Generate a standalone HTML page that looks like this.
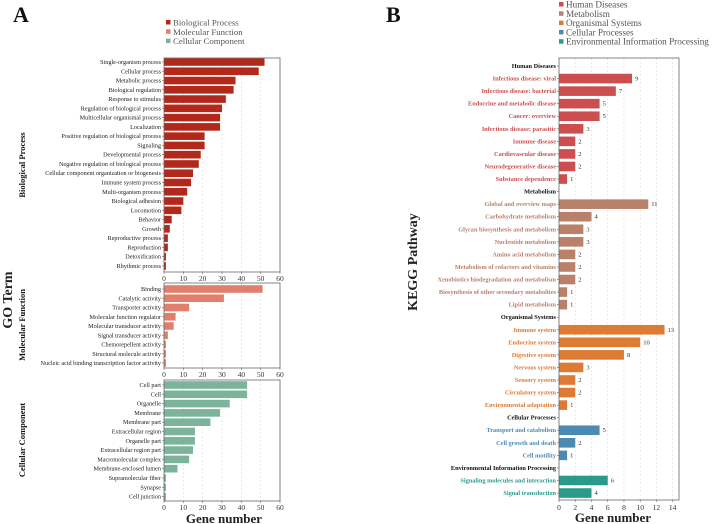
<!DOCTYPE html>
<html><head><meta charset="utf-8"><style>
body{margin:0;background:#fff;}
svg{display:block;font-family:"Liberation Serif",serif;}
</style></head><body>
<svg id="chart" width="712" height="524" viewBox="0 0 712 524"></svg>
<script>
// ---- Panel A data ----
const bpCats=["Single-organism process","Cellular process","Metabolic process","Biological regulation","Response to stimulus","Regulation of biological process","Multicellular organismal process","Localization","Positive regulation of biological process","Signaling","Developmental process","Negative regulation of biological process","Cellular component organization or biogenesis","Immune system process","Multi-organism process","Biological adhesion","Locomotion","Behavior","Growth","Reproductive process","Reproduction","Detoxification","Rhythmic process"];
const bpVals=[52,49,37,36,32,30,29,29,21,21,19,18,15,14,12,10,9,4,3,2,2,1,1];
const mfCats=["Binding","Catalytic activity","Transporter activity","Molecular function regulator","Molecular transducer activity","Signal transducer activity","Chemorepellent activity","Structural molecule activity","Nucleic acid binding transcription factor activity"];
const mfVals=[51,31,13,6,5,2,1,1,1];
const ccCats=["Cell part","Cell","Organelle","Membrane","Membrane part","Extracellular region","Organelle part","Extracellular region part","Macromolecular complex","Membrane-enclosed lumen","Supramolecular fiber","Synapse","Cell junction"];
const ccVals=[43,43,34,29,24,16,16,15,13,7,1,1,1];
const goTicks=[0,10,20,30,40,50,60];
// ---- Panel B data ----
const keggCats=["Human Diseases","Infectious disease: viral","Infectious disease: bacterial","Endocrine and metabolic disease","Cancer: overview","Infectious disease: parasitic","Immune disease","Cardiovascular disease","Neurodegenerative disease","Substance dependence","Metabolism","Global and overview maps","Carbohydrate metabolism","Glycan biosynthesis and metabolism","Nucleotide metabolism","Amino acid metabolism","Metabolism of cofactors and vitamins","Xenobiotics biodegradation and metabolism","Biosynthesis of other secondary metabolites","Lipid metabolism","Organismal Systems","Immune system","Endocrine system","Digestive system","Nervous system","Sensory system","Circulatory system","Environmental adaptation","Cellular Processes","Transport and catabolism","Cell growth and death","Cell motility","Environmental Information Processing","Signaling molecules and interaction","Signal transduction"];
const keggVals=[null,9,7,5,5,3,2,2,2,1,null,11,4,3,3,2,2,2,1,1,null,13,10,8,3,2,2,1,null,5,2,1,null,6,4];
const keggGroup=[0,0,0,0,0,0,0,0,0,0,1,1,1,1,1,1,1,1,1,1,2,2,2,2,2,2,2,2,3,3,3,3,4,4,4];
const keggTicks=[0,2,4,6,8,10,12,14];

const NS="http://www.w3.org/2000/svg";
const svg=document.getElementById("chart");
function mk(tag,attrs,parent){const e=document.createElementNS(NS,tag);for(const k in attrs)e.setAttribute(k,attrs[k]);(parent||svg).appendChild(e);return e;}
function txt(s,attrs,parent){const e=mk("text",attrs,parent);e.textContent=s;return e;}

function goPanel(cats,vals,color,top,bottom,y0,step,name,title,titleY){
  const g=mk("g",{});
  
  
  const x0=164,x1=280,max=60;
  const X=v=>x0+(v/max)*(x1-x0);
  const Y=i=>y0+i*step;
  goTicks.forEach(t=>{
    const gl=mk("line",{x1:X(t),x2:X(t),y1:top,y2:bottom,stroke:"#ddd","stroke-dasharray":"2,2","stroke-width":0.6},g);
    
    
    const tl=txt(String(t),{x:X(t),y:bottom+9,"font-size":7.5,"text-anchor":"middle",fill:"#333"},g);
    
    
    mk("line",{x1:X(t),x2:X(t),y1:bottom,y2:bottom+2,stroke:"#666","stroke-width":0.6},g);
  });
  cats.forEach((c,i)=>{
    const b=mk("rect",{x:X(0),y:Y(i)-3.8,width:X(vals[i])-X(0),height:7.6,fill:color},g);
    
    
    const l=txt(c,{x:x0-3,y:Y(i)+2,"font-size":6.2,"text-anchor":"end",fill:"#222"},g);
    
    
    mk("line",{x1:x0-2,x2:x0,y1:Y(i),y2:Y(i),stroke:"#666","stroke-width":0.6},g);
  });
  const fr=mk("rect",{x:x0,y:top,width:x1-x0,height:bottom-top,fill:"none",stroke:"#666","stroke-width":0.8},g);
  
  
  const t=txt(title,{x:0,y:0,"font-size":8.5,"font-weight":"bold","text-anchor":"middle",fill:"#111",transform:`translate(25,${titleY}) rotate(-90)`},g);
  
  
}
goPanel(bpCats,bpVals,"#b2291b",58,272,62,9.27,"biological-process","Biological Process",165);
goPanel(mfCats,mfVals,"#e0806c",283,368,289,9.25,"molecular-function","Molecular Function",325);
goPanel(ccCats,ccVals,"#7bb49b",380,501,385,9.3,"cellular-component","Cellular Component",440);

const gB=mk("g",{});


const groupColors=["#cc4e4f","#b9806a","#dd7a33","#4d8ab1","#2b9b89"];
const bx0=559,bx1=679,bmax=14.78,bTop=58,bBot=500,by0=66,bstep=12.56;
const BX=v=>bx0+(v/bmax)*(bx1-bx0);
const BY=i=>by0+i*bstep;
keggTicks.forEach(t=>{
  const gl=mk("line",{x1:BX(t),x2:BX(t),y1:bTop,y2:bBot,stroke:"#ddd","stroke-dasharray":"2,2","stroke-width":0.6},gB);
  
  
  const tl=txt(String(t),{x:BX(t),y:bBot+10,"font-size":7.5,"text-anchor":"middle",fill:"#333"},gB);
  
  
  mk("line",{x1:BX(t),x2:BX(t),y1:bBot,y2:bBot+2,stroke:"#666","stroke-width":0.6},gB);
});
keggCats.forEach((c,i)=>{
  const v=keggVals[i];
  const header=v===null;
  const col=groupColors[keggGroup[i]];
  if(!header){
    const b=mk("rect",{x:BX(0),y:BY(i)-4.8,width:BX(v)-BX(0),height:9.6,fill:col},gB);
    
    
    const vl=txt(String(v),{x:BX(v)+3,y:BY(i)+2,"font-size":6.5,fill:"#333"},gB);
    
    
  }
  const l=txt(c,{x:bx0-3,y:BY(i)+2,"font-size":6.3,"font-weight":"bold","text-anchor":"end",fill:header?"#111":col},gB);
  
  
  mk("line",{x1:bx0-2,x2:bx0,y1:BY(i),y2:BY(i),stroke:"#666","stroke-width":0.6},gB);
});
const fb=mk("rect",{x:bx0,y:bTop,width:bx1-bx0,height:bBot-bTop,fill:"none",stroke:"#666","stroke-width":0.8},gB);



const legA=[["Biological Process","#b2291b"],["Molecular Function","#e0806c"],["Cellular Component","#7bb49b"]];
legA.forEach((d,i)=>{
  const s=mk("rect",{x:166,y:20+i*9.3,width:4.5,height:4.5,fill:d[1]});
  
  
  const t=txt(d[0],{x:173,y:25.5+i*9.3,"font-size":8.8,fill:"#555"});
  
  
});
const legB=["Human Diseases","Metabolism","Organismal Systems","Cellular Processes","Environmental Information Processing"];
legB.forEach((d,i)=>{
  const s=mk("rect",{x:559,y:2+i*9.3,width:4.5,height:4.5,fill:groupColors[i]});
  
  
  const t=txt(d,{x:566,y:7.5+i*9.3,"font-size":9.2,fill:"#555"});
  
  
});

const a=txt("A",{x:13,y:22,"font-size":22,"font-weight":"bold",fill:"#111"});


const b=txt("B",{x:386,y:22,"font-size":22,"font-weight":"bold",fill:"#111"});


const goT=txt("GO Term",{x:0,y:0,"font-size":14,"font-weight":"bold","text-anchor":"middle",fill:"#222",transform:"translate(12,300) rotate(-90)"});


const kT=txt("KEGG Pathway",{x:0,y:0,"font-size":14,"font-weight":"bold","text-anchor":"middle",fill:"#222",transform:"translate(417,262) rotate(-90)"});


const gA=txt("Gene number",{x:224,y:523,"font-size":13,"font-weight":"bold","text-anchor":"middle",fill:"#222"});


const gBt=txt("Gene number",{x:613,y:522,"font-size":13,"font-weight":"bold","text-anchor":"middle",fill:"#222"});


</script>
</body></html>
